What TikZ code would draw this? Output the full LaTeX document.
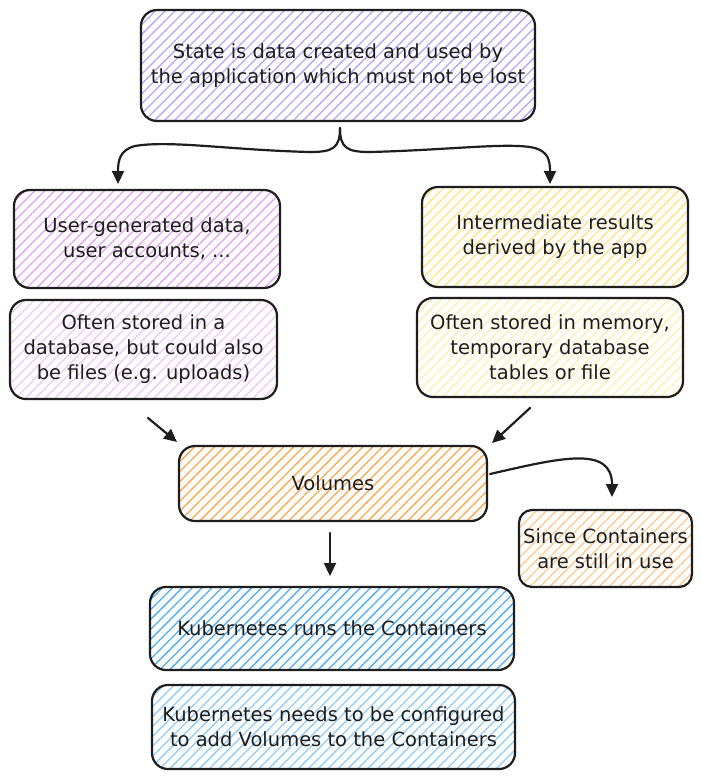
\documentclass[tikz,border=0pt]{standalone}
\usepackage{fontspec}
\setmainfont{DejaVu Sans}
\usetikzlibrary{patterns.meta,arrows.meta}
\definecolor{ink}{HTML}{1E1E1E}
\definecolor{violetH}{HTML}{B8A5FC}
\definecolor{pinkH}{HTML}{E5A3F5}
\definecolor{pinkL}{HTML}{F0C8FA}
\definecolor{yellowH}{HTML}{FFE380}
\definecolor{yellowL}{HTML}{FFF0B0}
\definecolor{orangeH}{HTML}{FFA94D}
\definecolor{orangeL}{HTML}{FFC98F}
\definecolor{blueH}{HTML}{4DABF7}
\definecolor{blueL}{HTML}{91CCF9}
\begin{document}
\begin{tikzpicture}[x=1pt,y=-1pt,
  box/.style={draw=ink,line width=2.2pt,rounded corners=16pt,inner sep=0pt,align=center,
    font=\fontsize{19.5}{25}\selectfont,text=ink},
  hatch/.style={pattern={Lines[angle=45,distance=7pt,line width=1.3pt]},pattern color=#1},
  arr/.style={draw=ink,line width=2.2pt,line cap=round,-{Triangle[length=13pt,width=12pt]}}]
\fill[white] (0,0) rectangle (701,780);
\useasboundingbox (0,0) rectangle (701,780);

\node[box,hatch=violetH,minimum width=394pt,minimum height=111pt] (top) at (338,65.5)
  {State is data created and used by\\the application which must not be lost};
\node[box,hatch=pinkH,minimum width=266pt,minimum height=98pt] (ug) at (147,239)
  {User-generated data,\\user accounts, ...};
\node[box,hatch=pinkL,minimum width=267pt,minimum height=99pt] (of1) at (143.5,349.5)
  {Often stored in a\\database, but could also\\be files (e.g. uploads)};
\node[box,hatch=yellowH,minimum width=266pt,minimum height=100pt] (im) at (555,237)
  {Intermediate results\\derived by the app};
\node[box,hatch=yellowL,minimum width=266pt,minimum height=99pt] (of2) at (550,347.5)
  {Often stored in memory,\\temporary database\\tables or file};
\node[box,hatch=orangeH,minimum width=308pt,minimum height=75pt] (vol) at (333,483.5)
  {Volumes};
\node[box,hatch=orangeL,minimum width=173pt,minimum height=77pt,rounded corners=13pt] (since) at (605.5,548.5)
  {Since Containers\\are still in use};
\node[box,hatch=blueH,minimum width=364pt,minimum height=83pt] (k1) at (332,628.5)
  {Kubernetes runs the Containers};
\node[box,hatch=blueL,minimum width=363pt,minimum height=84pt] (k2) at (333.5,727)
  {Kubernetes needs to be configured\\to add Volumes to the Containers};

\coordinate (brs) at (340,128);
\coordinate (brl) at (118,184);
\coordinate (brr) at (550,184);
\draw[arr] (brs) .. controls (340,148) and (333,152) .. (310,152)
  .. controls (230,150) and (170,140) .. (135,146)
  .. controls (120,150) and (118,160) .. (brl);
\draw[arr] (brs) .. controls (340,148) and (347,152) .. (370,152)
  .. controls (450,150) and (510,142) .. (535,148)
  .. controls (548,152) and (550,160) .. (brr);

\coordinate (a1s) at (148,418);
\coordinate (a1e) at (177,442);
\draw[arr] (a1s) -- (a1e);
\coordinate (a2s) at (530,408);
\coordinate (a2e) at (492,443);
\draw[arr] (a2s) -- (a2e);
\coordinate (a3s) at (490,474);
\coordinate (a3e) at (612,497);
\draw[arr] (a3s) .. controls (560,458) and (612,445) .. (a3e);
\coordinate (a4s) at (330,533);
\coordinate (a4e) at (330,576);
\draw[arr] (a4s) -- (a4e);
\end{tikzpicture}
\end{document}
